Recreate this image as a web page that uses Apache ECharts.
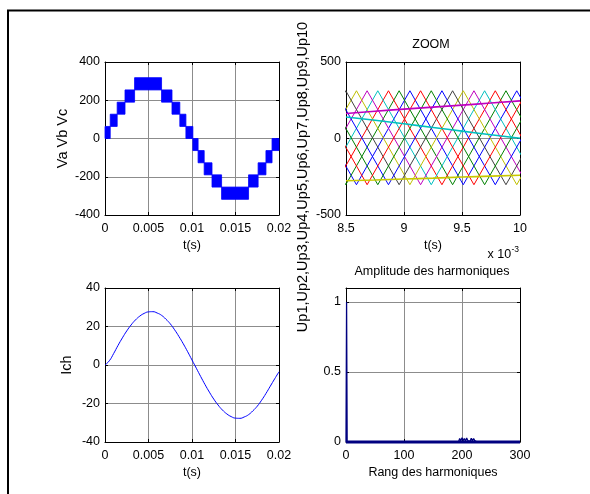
<!DOCTYPE html>
<html><head><meta charset="utf-8">
<script src="https://cdn.jsdelivr.net/npm/echarts@6/dist/echarts.min.js"></script>
<style>html,body{margin:0;padding:0;background:#fff}#c{width:590px;height:494px}</style>
</head><body><div id="c"></div>
<script>
// ---------- DATA ----------
// Top-left: stepped phase voltage (blocks: start time, end time, low level, high level)
const vaStart = [0,0.0006,0.0014,0.0023,0.0034,0.0065,0.0077,0.0086,0.0093,0.0101,0.0107,0.0114,0.0123,0.0134,0.0165,0.0176,0.0185,0.0192];
const vaEnd   = [0.0006,0.0014,0.0023,0.0034,0.0065,0.0077,0.0086,0.0093,0.0101,0.0107,0.0114,0.0123,0.0134,0.0165,0.0176,0.0185,0.0192,0.02];
const vaLow   = [0,63,127,190,254,190,127,63,0,-63,-127,-190,-254,-318,-254,-190,-127,-63];
const vaHigh  = [63,127,190,254,318,254,190,127,63,0,-63,-127,-190,-254,-190,-127,-63,0];

// Top-right: ZOOM, carriers Up1..Up10 (vertices [t(ms), value])
const up1  = [[8.130,312],[8.590,-302],[9.051,312],[9.511,-302],[9.972,312],[10.432,-302]];
const up2  = [[8.037,312],[8.498,-302],[8.958,312],[9.419,-302],[9.879,312],[10.340,-302]];
const up3  = [[7.945,312],[8.406,-302],[8.866,312],[9.327,-302],[9.787,312],[10.248,-302]];
const up4  = [[7.853,312],[8.314,-302],[8.774,312],[9.235,-302],[9.695,312],[10.156,-302]];
const up5  = [[7.761,312],[8.222,-302],[8.682,312],[9.143,-302],[9.603,312],[10.064,-302]];
const up6  = [[8.130,-302],[8.590,312],[9.051,-302],[9.511,312],[9.972,-302],[10.432,312]];
const up7  = [[8.037,-302],[8.498,312],[8.958,-302],[9.419,312],[9.879,-302],[10.340,312]];
const up8  = [[7.945,-302],[8.406,312],[8.866,-302],[9.327,312],[9.787,-302],[10.248,312]];
const up9  = [[7.853,-302],[8.314,312],[8.774,-302],[9.235,312],[9.695,-302],[10.156,312]];
const up10 = [[7.761,-302],[8.222,312],[8.682,-302],[9.143,312],[9.603,-302],[10.064,312]];
// reference signals in the zoom window
const refT       = [8.5,8.75,9.0,9.25,9.5,9.75,10.0];
const refCyan    = [141,119,96,72,48,24,2];
const refMagenta = [163,178,192,205,218,232,246];
const refYellow  = [-276,-271,-265,-259,-252,-246,-240];

// Bottom-left: load current Ich
const ichT = [0,0.0005,0.001,0.0015,0.002,0.0025,0.003,0.0035,0.004,0.0045,0.005,0.0055,0.006,0.0065,0.007,0.0075,0.008,0.0085,0.009,0.0095,0.01,0.0105,0.011,0.0115,0.012,0.0125,0.013,0.0135,0.014,0.0145,0.015,0.0155,0.016,0.0165,0.017,0.0175,0.018,0.0185,0.019,0.0195,0.02];
const ichV = [0,2.2,6.0,10.2,14.1,17.7,20.8,23.4,25.4,26.8,27.6,27.7,27.0,25.8,23.8,21.4,18.3,14.8,11.0,6.9,2.6,-1.7,-6.0,-10.2,-14.1,-17.7,-20.8,-23.4,-25.4,-26.8,-27.6,-27.7,-27.0,-25.8,-23.8,-21.4,-18.3,-14.8,-11.0,-7.2,-3.5];

// Bottom-right: harmonic amplitudes
const harmRank = [0,1,2,194,196,198,200,202,204,206,208,210,212,214,216,218,220,222,224,226,300];
const harmAmp  = [0,1,0,0,0.025,0.008,0.03,0.01,0.025,0.006,0.028,0.01,0.022,0.005,0.026,0.008,0.025,0.01,0.02,0,0];
const floorRank = [0,300];
const floorAmp  = [0,0];

// Axis ticks
const tTicks = [0,0.005,0.01,0.015,0.02];
const zoomTicks = [8.5,9,9.5,10];
const rankTicks = [0,100,200,300];

// ---------- STYLE ----------
const FONT = 'Liberation Sans, Arial, Helvetica, sans-serif';
const upColors = ['#0000FF','#008000','#FF0000','#00BFBF','#BF00BF','#BFBF00','#404040','#0000FF','#008000','#FF0000'];
const GRIDC = '#8c8c8c';

function mkX(gi, min, max, interval, primary, name) {
  return {
    type:'value', gridIndex:gi, position: primary ? 'bottom' : 'top', min, max, interval,
    axisLine:{show:true, onZero:false, lineStyle:{color:'#000', width:1}},
    axisTick:{show:true, inside:true, length:3, lineStyle:{color:'#000', width:1}},
    axisLabel:{show:primary, color:'#000', fontSize:12.5, fontFamily:FONT, margin:7},
    splitLine:{show:primary, lineStyle:{color:GRIDC, width:1}},
    name: primary ? (name||'') : '', nameLocation:'middle', nameGap:24,
    nameTextStyle:{color:'#000', fontSize:12.5, fontFamily:FONT}
  };
}
function mkY(gi, min, max, interval, primary, name, gap, extra) {
  const a = {
    type:'value', gridIndex:gi, position: primary ? 'left' : 'right', min, max, interval,
    axisLine:{show:true, onZero:false, lineStyle:{color:'#000', width:1}},
    axisTick:{show:true, inside:true, length:3, lineStyle:{color:'#000', width:1}},
    axisLabel:{show:primary, color:'#000', fontSize:12.5, fontFamily:FONT, margin:5},
    splitLine:{show:primary, lineStyle:{color:GRIDC, width:1}},
    name: primary ? (name||'') : '', nameLocation:'middle', nameGap:gap||30, nameRotate:90,
    nameTextStyle:{color:'#000', fontSize:14.5, fontFamily:FONT}
  };
  if (extra) Object.assign(a.axisLabel, extra);
  return a;
}

const xAxis = [
  mkX(0, 0, 0.02, 0.005, true, 't(s)'), mkX(0, 0, 0.02, 0.005, false),
  mkX(1, 8.5, 10, 0.5, true, 't(s)'),   mkX(1, 8.5, 10, 0.5, false),
  mkX(2, 0, 0.02, 0.005, true, 't(s)'), mkX(2, 0, 0.02, 0.005, false),
  mkX(3, 0, 300, 100, true, 'Rang des harmoniques'), mkX(3, 0, 300, 100, false)
];
const yAxis = [
  mkY(0, -400, 400, 200, true, 'Va Vb Vc', 35), mkY(0, -400, 400, 200, false),
  mkY(1, -500, 500, 500, true, ''), mkY(1, -500, 500, 500, false),
  mkY(2, -40, 40, 20, true, 'Ich', 31), mkY(2, -40, 40, 20, false),
  mkY(3, 0, 1.1, 0.5, true, '', 30, {showMaxLabel:false}), mkY(3, 0, 1.1, 0.5, false)
];

const vaData = vaStart.map((s,i)=>[s, vaEnd[i], vaLow[i], vaHigh[i]]);
const ups = [up1,up2,up3,up4,up5,up6,up7,up8,up9,up10];

const series = [];
series.push({
  type:'custom', xAxisIndex:0, yAxisIndex:0, data: vaData,
  encode:{x:[0,1], y:[2,3]},
  renderItem:function(params, api){
    const p0 = api.coord([api.value(0), api.value(3)]);
    const p1 = api.coord([api.value(1), api.value(2)]);
    return {type:'rect', shape:{x:p0[0], y:p0[1], width:p1[0]-p0[0], height:p1[1]-p0[1]}, style:{fill:'#0000FF', stroke:'#0000FF', lineWidth:0.8}};
  }
});
ups.forEach((d,i)=>series.push({
  type:'line', name:'Up'+(i+1), xAxisIndex:2, yAxisIndex:2, data:d, showSymbol:false, clip:true,
  lineStyle:{color:upColors[i], width:1}, itemStyle:{color:upColors[i]}
}));
[[refCyan,'#00BFBF'],[refMagenta,'#BF00BF'],[refYellow,'#C8C800']].forEach(([v,c])=>series.push({
  type:'line', xAxisIndex:2, yAxisIndex:2, data: refT.map((t,i)=>[t, v[i]]), showSymbol:false, smooth:true, clip:true,
  lineStyle:{color:c, width:1.6}, itemStyle:{color:c}
}));
series.push({
  type:'line', xAxisIndex:4, yAxisIndex:4, data: ichT.map((t,i)=>[t, ichV[i]]), showSymbol:false, smooth:true,
  lineStyle:{color:'#0000FF', width:1}, itemStyle:{color:'#0000FF'}
});
series.push({
  type:'line', xAxisIndex:6, yAxisIndex:6, data: floorRank.map((r,i)=>[r, floorAmp[i]]), showSymbol:false, clip:false, z:5,
  lineStyle:{color:'#000080', width:3}, itemStyle:{color:'#000080'}
});
series.push({
  type:'line', xAxisIndex:6, yAxisIndex:6, data: harmRank.map((r,i)=>[r, harmAmp[i]]), showSymbol:false, clip:false, z:6,
  lineStyle:{color:'#000080', width:1.3}, itemStyle:{color:'#000080'}
});

const txt = (x,y,text,size,extra)=>Object.assign({type:'text', x, y, silent:true,
  style:{text, fill:'#000', font: size+'px '+FONT, textAlign:'center', textVerticalAlign:'middle'}}, extra||{});

const option = {
  animation:false,
  backgroundColor:'#fff',
  grid:[
    {left:105, top:62, width:174, height:153, outerBoundsMode:'none'},
    {left:346, top:62, width:174, height:153, outerBoundsMode:'none'},
    {left:105, top:288, width:174, height:154, outerBoundsMode:'none'},
    {left:346, top:288, width:174, height:154, outerBoundsMode:'none'}
  ],
  xAxis, yAxis, series,
  graphic:[
    {type:'line', silent:true, shape:{x1:7, y1:10.5, x2:590, y2:10.5}, style:{stroke:'#000', lineWidth:2}},
    {type:'line', silent:true, shape:{x1:8, y1:10, x2:8, y2:494}, style:{stroke:'#000', lineWidth:2}},
    txt(431, 45, 'ZOOM', 12.5),
    txt(432, 272, 'Amplitude des harmoniques', 12.5),
    txt(302.5, 177, 'Up1,Up2,Up3,Up4,Up5,Up6,Up7,Up8,Up9,Up10', 14.5, {rotation:Math.PI/2}),
    {type:'text', x:487.5, y:254.5, silent:true, style:{text:'x 10', fill:'#000', font:'12.5px '+FONT, textAlign:'left', textVerticalAlign:'middle'}},
    {type:'text', x:511.5, y:249.5, silent:true, style:{text:'-3', fill:'#000', font:'8.5px '+FONT, textAlign:'left', textVerticalAlign:'middle'}}
  ]
};
const chart = echarts.init(document.getElementById('c'), null, {renderer:'canvas'});
chart.setOption(option);
</script></body></html>
